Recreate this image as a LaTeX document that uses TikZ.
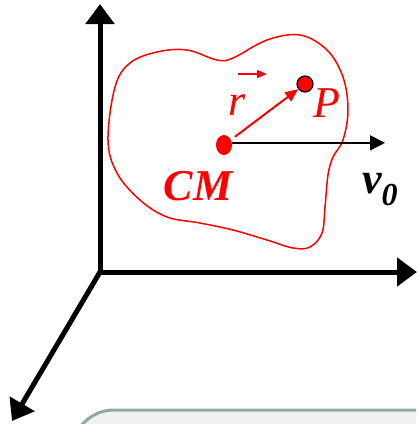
\documentclass[tikz,border=0pt]{standalone}
\usepackage{fontspec}
\setmainfont{Liberation Serif}
\usetikzlibrary{arrows.meta,shapes.geometric}
\definecolor{boxedge}{RGB}{143,168,168}
\definecolor{boxfill}{RGB}{241,241,241}
\tikzset{
  axis/.style={line width=5pt,-{Triangle[length=20pt,width=28pt]}},
  lbl/.style={inner sep=0pt,anchor=base,font=\fontsize{44}{44}\selectfont}
}
\begin{document}
\begin{tikzpicture}[x=1pt,y=-1pt]
  \useasboundingbox (0,0) rectangle (416,424);
  % note box at the bottom, cut by the page
  \begin{scope}
    \clip (0,0) rectangle (416,424);
    \draw[boxedge,fill=boxfill,line width=3pt,rounded corners=42pt] (72,410) rectangle (470,480);
  \end{scope}
  % axes
  \coordinate (O) at (100,272);
  \coordinate (Y) at (100,4);
  \coordinate (X) at (417,272);
  \coordinate (Z) at (12,421);
  \draw[axis] (O) -- (Y);
  \draw[axis] (O) -- (X);
  \draw[axis] (O) -- (Z);
  % body
  \draw[red,line width=1.5pt] plot[smooth cycle,tension=0.6] coordinates {
    (108,140) (115,87) (130,63) (157,52) (187,50) (217,60) (233,58) (267,40)
    (300,35) (327,50) (343,77) (348,110) (343,140) (333,157) (328,175)
    (325,207) (322,233) (310,247) (293,248) (267,240) (233,230) (200,223)
    (167,217) (140,200) (117,173)};
  \node[ellipse,fill=red,minimum width=16pt,minimum height=20pt,inner sep=0pt] (cm) at (224,145) {};
  \node[circle,fill=red,draw=black,line width=1.2pt,minimum size=16pt,inner sep=0pt] (p) at (305,84) {};
  \coordinate (v) at (385,141);
  \draw[red,line width=2pt,shorten <=5pt,-{Triangle[length=13pt,width=11pt]}] (cm) -- (p);
  \draw[line width=1.5pt,-{Triangle[length=15pt,width=15pt]}] (cm.15) -- (cm.15 -| v);
  % labels
  \node[lbl,red] (r) at (237,115) {\itshape r};
  \draw[red,line width=1.5pt,-{Triangle[length=10pt,width=8pt]}] ([xshift=1pt,yshift=20pt]r.north) -- ([xshift=30pt,yshift=20pt]r.north);
  \node[lbl,red] (plbl) at (327,117) {\itshape P};
  \node[lbl,red] (cmlbl) at (198,200) {\bfseries\itshape CM};
  \node[lbl,anchor=base west] (vlbl) at (362,193) {\bfseries\itshape v\raisebox{-12pt}{\fontsize{32}{32}\selectfont 0}};
\end{tikzpicture}
\end{document}
